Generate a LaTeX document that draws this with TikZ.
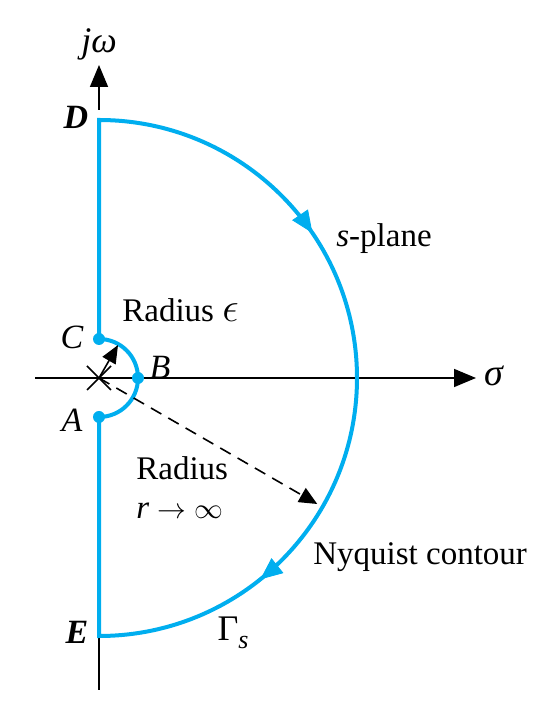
\documentclass[tikz,border=0pt]{standalone}
\usepackage{fontspec}
\setmainfont{Liberation Serif}
\usetikzlibrary{arrows.meta,decorations.markings,calc}
\definecolor{nyq}{RGB}{0,174,239}
\tikzset{
  axis/.style={line width=0.8pt,black},
  contour/.style={line width=2pt,nyq},
  dot/.style={circle,fill=nyq,inner sep=0pt,minimum size=6pt},
  lbl/.style={inner sep=1pt,font=\fontsize{16.5}{19}\selectfont},
  ptlbl/.style={inner sep=1pt,font=\fontsize{17}{19}\selectfont\itshape},
}
\newcommand{\mybigmath}{\fontsize{20}{20}\selectfont}
\newcommand{\mymidmath}{\fontsize{15}{15}\selectfont}
\begin{document}
\begin{tikzpicture}[x=0.5pt,y=0.5pt]
\useasboundingbox (0,0) rectangle (541,728);
% coordinates
\coordinate (O) at (99,350);
\coordinate (D) at (99,608);
\coordinate (E) at (99,94);
\coordinate (xl) at (35,350);
\coordinate (xr) at (476,350);
\coordinate (yb) at (99,38);
\coordinate (yt) at (99,663);
% axes
\draw[axis,-{Triangle[length=11pt,width=9pt]}] (xl) -- (xr);
\draw[axis] (yb) -- (E);
\draw[axis,-{Triangle[length=11pt,width=9pt]}] ($(D)+(0,10)$) -- (yt);
\node[lbl,anchor=west,font=\fontsize{19}{20}\selectfont\itshape] (sig) at (482,352) {σ};
\node[lbl,font=\fontsize{18}{20}\selectfont\itshape] (jw) at (99,684) {jω};
% contour
\draw[contour,line join=miter] (E) -- (99,311) arc[start angle=-90,end angle=90,radius=39] -- (D)
  arc[start angle=90,end angle=-90,radius=258] -- cycle;
% arrowheads on big arc
\path[decoration={markings,
   mark=at position 0.31 with {\arrow[nyq]{Triangle[length=11pt,width=9.5pt]}},
   mark=at position 0.785 with {\arrow[nyq]{Triangle[length=11pt,width=9.5pt]}}},
   decorate] (D) arc[start angle=90,end angle=-90,radius=258];
% dots
\node[dot] (C) at (99,389) {};
\node[dot] (B) at (138,350) {};
\node[dot] (A) at (99,311) {};
% cross
\draw[line width=0.8pt] (87,338) -- (111,362) (87,362) -- (111,338);
% radius arrows
\coordinate (re) at ($(O)+(60:38)$);
\coordinate (rr) at ($(O)+(-30:252)$);
\draw[line width=0.8pt,-{Triangle[length=9pt,width=7.5pt]}] (O) -- (re);
\draw[line width=0.8pt,dash pattern=on 6pt off 4pt,-{Triangle[length=9pt,width=8pt]}] (O) -- (rr);
% labels
\node[ptlbl,font=\fontsize{17}{19}\selectfont\bfseries\itshape] (Dl) at (76,611) {D};
\node[ptlbl,font=\fontsize{17}{19}\selectfont\bfseries\itshape] (El) at (77,96) {E};
\node[ptlbl] (Cl) at (72,391) {C};
\node[ptlbl] (Al) at (72,308) {A};
\node[ptlbl] (Bl) at (160,361) {B};
\node[lbl,anchor=west] (reps) at (120,418) {Radius {\mybigmath$\epsilon$}};
\node[lbl,anchor=west] (sp) at (334,489) {\textit{s}-plane};
\node[lbl,anchor=west] (rad) at (134,260) {Radius};
\node[lbl,anchor=west] (rinf) at (134,217) {\textit{r} {\mymidmath$\rightarrow\infty$}};
\node[lbl,anchor=west] (nyql) at (311,171) {Nyquist contour};
\node[lbl,font=\fontsize{18}{20}\selectfont] (gam) at (233,95) {Γ\raisebox{-0.5ex}{\fontsize{13}{14}\selectfont\itshape s}};
\end{tikzpicture}
\end{document}
